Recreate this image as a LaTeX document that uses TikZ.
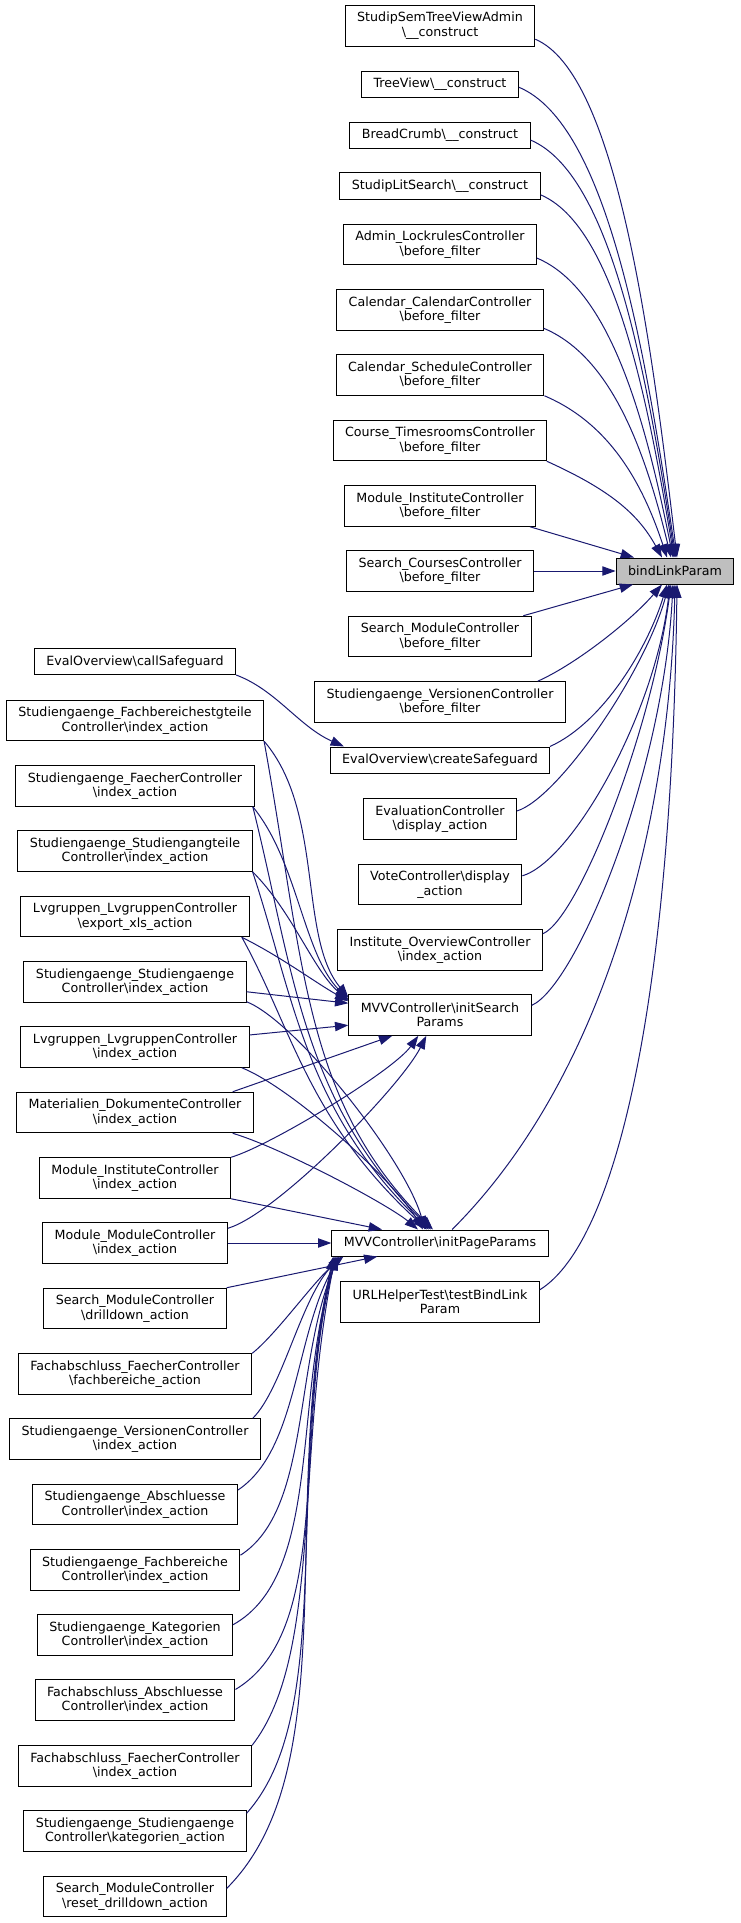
\documentclass[tikz,border=0pt]{standalone}
\usepackage{fontspec}
\setmainfont{DejaVu Sans}
\usetikzlibrary{arrows.meta,calc}

\definecolor{midnightblue}{RGB}{25,25,112}
\definecolor{grey75}{RGB}{191,191,191}
\newcommand{\bsl}{\textbackslash}

\tikzset{every picture/.style={line width=0.75pt}}
\tikzset{
  fn/.style={draw=black, fill=white, font=\fontsize{9.5}{10.8}\selectfont, align=center, inner xsep=9pt, inner ysep=0pt, minimum height=19.5pt},
  fntwo/.style={fn, minimum height=30.4pt},
  fnroot/.style={fn, fill=grey75},
  call/.style={draw=midnightblue, -{Triangle[length=10pt,width=7pt]}}
}

\begin{document}
\begin{tikzpicture}[x=0.75pt,y=0.75pt,yscale=-1,xscale=1]
\useasboundingbox (0,0) rectangle (740,1923);

% Root node
\node [fnroot] (bind) at (675,571) {bindLinkParam};

% Right column (direct callers)
\node [fntwo] (semtree) at (440,25.85) {StudipSemTreeViewAdmin\\\bsl\_\_construct};
\node [fn] (treeview) at (440,84.5) {TreeView\bsl\_\_construct};
\node [fn] (breadcrumb) at (440,135.3) {BreadCrumb\bsl\_\_construct};
\node [fn] (litsearch) at (440,186) {StudipLitSearch\bsl\_\_construct};
\node [fntwo] (lockrules) at (440,244.5) {Admin\_LockrulesController\\\bsl before\_filter};
\node [fntwo] (calcal) at (440,310) {Calendar\_CalendarController\\\bsl before\_filter};
\node [fntwo] (calsched) at (440,375) {Calendar\_ScheduleController\\\bsl before\_filter};
\node [fntwo] (timesrooms) at (440,440.5) {Course\_TimesroomsController\\\bsl before\_filter};
\node [fntwo] (modinstbf) at (440,506) {Module\_InstituteController\\\bsl before\_filter};
\node [fntwo] (searchcourses) at (440,571) {Search\_CoursesController\\\bsl before\_filter};
\node [fntwo] (searchmodbf) at (440,636.5) {Search\_ModuleController\\\bsl before\_filter};
\node [fntwo] (versbf) at (440,702) {Studiengaenge\_VersionenController\\\bsl before\_filter};
\node [fn] (createsg) at (440,760) {EvalOverview\bsl createSafeguard};
\node [fntwo] (evalctl) at (440,819) {EvaluationController\\\bsl display\_action};
\node [fntwo] (votectl) at (440,884.5) {VoteController\bsl display\\\_action};
\node [fntwo] (instov) at (440,950) {Institute\_OverviewController\\\bsl index\_action};
\node [fntwo] (initsearch) at (440,1015) {MVVController\bsl initSearch\\Params};
\node [fn] (initpage) at (440,1243) {MVVController\bsl initPageParams};
\node [fntwo] (urltest) at (440,1302) {URLHelperTest\bsl testBindLink\\Param};

% Left column (indirect callers)
\node [fn] (callsg) at (135,661.5) {EvalOverview\bsl callSafeguard};
\node [fntwo] (fbstg) at (135,720.7) {Studiengaenge\_Fachbereichestgteile\\Controller\bsl index\_action};
\node [fntwo] (faecher) at (135,786) {Studiengaenge\_FaecherController\\\bsl index\_action};
\node [fntwo] (stgteile) at (135,851) {Studiengaenge\_Studiengangteile\\Controller\bsl index\_action};
\node [fntwo] (exportxls) at (135,916.5) {Lvgruppen\_LvgruppenController\\\bsl export\_xls\_action};
\node [fntwo] (stgidx) at (135,982) {Studiengaenge\_Studiengaenge\\Controller\bsl index\_action};
\node [fntwo] (lvgidx) at (135,1047) {Lvgruppen\_LvgruppenController\\\bsl index\_action};
\node [fntwo] (materialien) at (135,1112.5) {Materialien\_DokumenteController\\\bsl index\_action};
\node [fntwo] (modinstidx) at (135,1178) {Module\_InstituteController\\\bsl index\_action};
\node [fntwo] (modmodidx) at (135,1243) {Module\_ModuleController\\\bsl index\_action};
\node [fntwo] (drilldown) at (135,1308.5) {Search\_ModuleController\\\bsl drilldown\_action};
\node [fntwo] (fachbereiche) at (135,1374) {Fachabschluss\_FaecherController\\\bsl fachbereiche\_action};
\node [fntwo] (versidx) at (135,1439) {Studiengaenge\_VersionenController\\\bsl index\_action};
\node [fntwo] (abschl) at (135,1504.5) {Studiengaenge\_Abschluesse\\Controller\bsl index\_action};
\node [fntwo] (fachber) at (135,1570) {Studiengaenge\_Fachbereiche\\Controller\bsl index\_action};
\node [fntwo] (kategorien) at (135,1635) {Studiengaenge\_Kategorien\\Controller\bsl index\_action};
\node [fntwo] (faabschl) at (135,1700) {Fachabschluss\_Abschluesse\\Controller\bsl index\_action};
\node [fntwo] (fafaecher) at (135,1766) {Fachabschluss\_FaecherController\\\bsl index\_action};
\node [fntwo] (stgkat) at (135,1831) {Studiengaenge\_Studiengaenge\\Controller\bsl kategorien\_action};
\node [fntwo] (resetdd) at (135,1896.5) {Search\_ModuleController\\\bsl reset\_drilldown\_action};

% Calls into bindLinkParam
\draw [call] (semtree.-8) .. controls +(80,34) and +(-27,-230) .. ($(bind.north)+(2,0)$);
\draw [call] (treeview.-2) .. controls +(88,37) and +(-31,-210) .. ($(bind.north)+(1,0)$);
\draw [call] (breadcrumb.-3) .. controls +(80,34) and +(-29,-188) .. (bind.north);
\draw [call] (litsearch.-5) .. controls +(73,31) and +(-27,-163) .. ($(bind.north)+(-1,0)$);
\draw [call] (lockrules.-8) .. controls +(74,31) and +(-27,-135) .. ($(bind.north)+(-2,0)$);
\draw [call] (calcal.-10) .. controls +(69,29) and +(-25,-103) .. ($(bind.north)+(-4,0)$);
\draw [call] (calsched.south east) .. controls +(66,28) and +(-24,-73) .. ($(bind.north)+(-8,0)$);
\draw [call] (timesrooms.-11.5) .. controls +(62,28) and +(-24,-44) .. ($(bind.north)+(-13,0)$);
\draw [call] (modinstbf.-13.6) -- ($(bind.north)+(-41,0)$);
\draw [call] (searchcourses.east) -- (bind.west);
\draw [call] (searchmodbf.14.4) -- ($(bind.south)+(-42,0)$);
\draw [call] (versbf.12) .. controls +(40,-18) and +(-30,35) .. ($(bind.south)+(-13,0)$);
\draw [call] (createsg.7) .. controls +(55,-25) and +(-18,60) .. ($(bind.south)+(-8,0)$);
\draw [call] (evalctl.6) .. controls +(40,-12) and +(-25,90) .. ($(bind.south)+(-6,0)$);
\draw [call] (votectl.6) .. controls +(50,-15) and +(-15,130) .. ($(bind.south)+(-5,0)$);
\draw [call] (instov.9) .. controls +(35,-15) and +(-20,150) .. ($(bind.south)+(-4,0)$);
\draw [call] (initsearch.6) .. controls +(45,-20) and +(-10,190) .. ($(bind.south)+(-2,0)$);
\draw [call] (initpage.48.8) .. controls +(160,-160) and +(-5,220) .. (bind.south);
\draw [call] (urltest.7) .. controls +(80,-50) and +(-5,400) .. ($(bind.south)+(2,0)$);

% Call into createSafeguard
\draw [call] (callsg.south east) .. controls +(40,15) and +(-45,-20) .. (createsg.172);

% Calls into initSearchParams
\draw [call] (fbstg.-9.7) .. controls +(60,70) and +(-50,-60) .. ($(initsearch.north west)+(0,3)$);
\draw [call] (faecher.-10.1) .. controls +(45,55) and +(-45,-45) .. ($(initsearch.north west)+(0,5)$);
\draw [call] (stgteile.-10.4) .. controls +(40,40) and +(-35,-30) .. ($(initsearch.north west)+(0,6)$);
\draw [call] (exportxls.-11.3) .. controls +(40,20) and +(-35,-20) .. ($(initsearch.north west)+(0,7)$);
\draw [call] (stgidx.-5.8) -- ($(initsearch.north west)+(0,9)$);
\draw [call] (lvgidx.6) -- ($(initsearch.north west)+(0,31)$);
\draw [call] (materialien.12.8) -- ($(initsearch.south west)+(44,0)$);
\draw [call] (modinstidx.north east) .. controls +(40,-12) and +(-25,35) .. ($(initsearch.south west)+(70,0)$);
\draw [call] (modmodidx.9.8) .. controls +(50,-15) and +(-25,50) .. ($(initsearch.south west)+(78,0)$);

% Calls into initPageParams
\draw [call] (fbstg.-9.7) .. controls +(40,220) and +(-130,-130) .. ($(initpage.north)+(-7,0)$);
\draw [call] (faecher.-10.1) .. controls +(40,160) and +(-130,-130) .. ($(initpage.north)+(-9,0)$);
\draw [call] (stgteile.-10.4) .. controls +(40,120) and +(-125,-120) .. ($(initpage.north)+(-11,0)$);
\draw [call] (exportxls.-11.3) .. controls +(50,90) and +(-120,-110) .. ($(initpage.north)+(-13,0)$);
\draw [call] (stgidx.-10.4) .. controls +(50,20) and +(-20,-70) .. ($(initpage.north)+(-15,0)$);
\draw [call] (lvgidx.-11.1) .. controls +(50,20) and +(-30,-50) .. ($(initpage.north)+(-17,0)$);
\draw [call] (materialien.-12.3) .. controls +(50,15) and +(-30,-25) .. ($(initpage.north)+(-22,0)$);
\draw [call] (modinstidx.south east) -- ($(initpage.north)+(-58,0)$);
\draw [call] (modmodidx.east) -- (initpage.west);
\draw [call] (drilldown.north east) -- ($(initpage.south west)+(46,0)$);
\draw [call] (fachbereiche.10.7) .. controls +(25,-20) and +(-30,25) .. ($(initpage.south west)+(12,0)$);
\draw [call] (versidx.10.2) .. controls +(30,-30) and +(-40,40) .. ($(initpage.south west)+(10,0)$);
\draw [call] (abschl.8) .. controls +(60,-40) and +(-45,80) .. ($(initpage.south west)+(8,0)$);
\draw [call] (fachber.8.1) .. controls +(70,-45) and +(-45,110) .. ($(initpage.south west)+(7,0)$);
\draw [call] (kategorien.6.7) .. controls +(90,-50) and +(-45,140) .. ($(initpage.south west)+(6,0)$);
\draw [call] (faabschl.6.6) .. controls +(100,-60) and +(-45,170) .. ($(initpage.south west)+(5,0)$);
\draw [call] (fafaecher.north east) .. controls +(70,-90) and +(-40,200) .. ($(initpage.south west)+(4,0)$);
\draw [call] (stgkat.9) .. controls +(90,-100) and +(-50,220) .. ($(initpage.south west)+(3,0)$);
\draw [call] (resetdd.5) .. controls +(120,-120) and +(-55,250) .. ($(initpage.south west)+(2,0)$);

\end{tikzpicture}
\end{document}
